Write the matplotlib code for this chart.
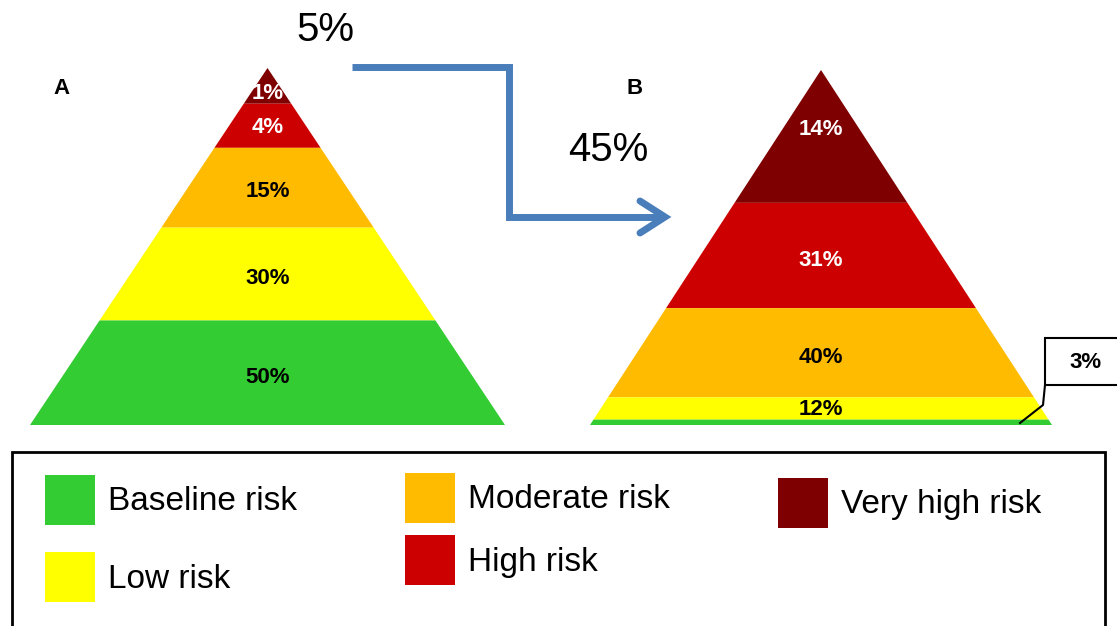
import numpy as np
import matplotlib.pyplot as plt
from matplotlib.patches import Polygon, Rectangle

# risk categories, bottom to top
categories = ['Baseline risk', 'Low risk', 'Moderate risk', 'High risk', 'Very high risk']
colors = ['#33cc33', '#ffff00', '#ffbb00', '#cc0000', '#7f0000']

# share of patients per category (%), bottom to top
shares_a = [50, 30, 15, 4, 1]
shares_b = [3, 12, 40, 31, 14]

shift_from = '5%'
shift_to = '45%'

plt.rcParams['font.family'] = ['Liberation Sans', 'DejaVu Sans']

fig = plt.figure(figsize=(11.17, 6.26), dpi=100)
ax = fig.add_axes([0, 0, 1, 1])
ax.set_xlim(0, 1117)
ax.set_ylim(626, 0)
ax.axis('off')


def pyramid(cx, top, base, halfw, shares, top_frac=0.5, hide=()):
    # band heights so that each band's area is its share of the triangle
    H = base - top
    vals = np.array(shares[::-1], dtype=float)          # top to bottom
    cum = np.concatenate([[0], np.cumsum(vals)]) / vals.sum()
    depth = H * np.sqrt(cum)
    cols = colors[::-1]
    for i in range(len(vals)):
        d0, d1 = depth[i], depth[i + 1]
        w0, w1 = halfw * d0 / H, halfw * d1 / H
        pts = [(cx - w0, top + d0), (cx + w0, top + d0),
               (cx + w1, top + d1), (cx - w1, top + d1)]
        ax.add_patch(Polygon(pts, closed=True, fc=cols[i], ec='none'))
        if vals[i] in hide:
            continue
        ym = top + d0 + 0.55 * (d1 - d0)
        if i == 0:
            ym = top + d1 * top_frac
        tc = 'white' if i < 2 else 'black'
        ax.text(cx, ym, '%d%%' % vals[i], ha='center', va='center',
                fontsize=16, fontweight='bold', color=tc)


pyramid(267.5, 68, 425, 237.5, shares_a, top_frac=0.72)
pyramid(821, 70, 425, 231, shares_b, top_frac=0.45, hide=(3,))

# panel letters
ax.text(62, 88, 'A', ha='center', va='center', fontsize=16, fontweight='bold')
ax.text(635, 88, 'B', ha='center', va='center', fontsize=16, fontweight='bold')

# callout for the thin baseline band
ax.add_patch(Rectangle((1045, 338), 80, 47, fc='white', ec='black', lw=1.5))
ax.text(1085, 362, '%d%%' % shares_b[0], ha='center', va='center',
        fontsize=16, fontweight='bold')
ax.plot([1045, 1043, 1020], [385, 405, 423], color='black', lw=1.5)

# arrow from A to B
ax.plot([352, 509, 509, 662], [67, 67, 217, 217], color='#4a7ebb', lw=5,
        solid_joinstyle='miter', solid_capstyle='butt')
ax.plot([640, 665, 640], [201, 217, 233], color='#4a7ebb', lw=5,
        solid_capstyle='round', solid_joinstyle='miter')
ax.text(325, 30, shift_from, ha='center', va='center', fontsize=29)
ax.text(608, 150, shift_to, ha='center', va='center', fontsize=29)

# legend
ax.add_patch(Rectangle((12, 452), 1093, 200, fc='white', ec='black', lw=2))
legend_pos = [(45, 475, 502), (45, 552, 580), (405, 473, 499),
              (405, 535, 562), (778, 478, 505)]
for cat, col, (lx, ly, ty) in zip(categories, colors, legend_pos):
    ax.add_patch(Rectangle((lx, ly), 50, 50, fc=col, ec='none'))
    ax.text(lx + 63, ty, cat, ha='left', va='center', fontsize=24)

fig.savefig('out.png', dpi=100)
